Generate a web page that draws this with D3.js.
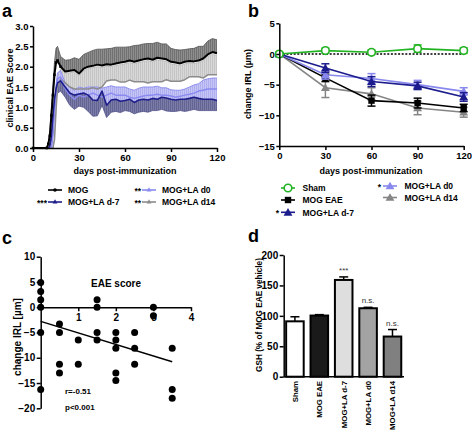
<!DOCTYPE html>
<html><head><meta charset="utf-8">
<script src="https://cdnjs.cloudflare.com/ajax/libs/d3/7.8.5/d3.min.js"></script>
<style>
body{margin:0;background:#fff;}
svg{display:block;font-family:"Liberation Sans",Arial,Helvetica,sans-serif;}
</style></head><body>
<svg id="c" width="472" height="433"></svg>
<script>
// ---------- Panel a data ----------
const days = [0,9,10,11,12,13,14,15,16,18,21,24,27,30,33,36,39,42,45,48,51,54,57,60,63,66,69,72,75,78,81,84,87,90,93,96,99,102,105,108,111,114,117,120];
const mogMean = [0,0,0.1,0.3,0.8,1.3,1.8,2.1,2.15,2.0,1.88,1.9,1.92,1.83,1.95,2.0,2.02,2.05,2.03,2.06,2.05,2.08,2.1,2.12,2.15,2.12,2.15,2.18,2.2,2.17,2.22,2.2,2.18,2.12,2.1,2.08,2.12,2.14,2.13,2.15,2.2,2.3,2.36,2.33];
const mogErr = [0,0,0.05,0.15,0.2,0.25,0.3,0.35,0.35,0.25,0.28,0.27,0.3,0.35,0.35,0.35,0.38,0.38,0.4,0.38,0.4,0.4,0.38,0.36,0.34,0.4,0.38,0.38,0.37,0.4,0.38,0.36,0.38,0.33,0.32,0.33,0.3,0.3,0.32,0.35,0.3,0.33,0.33,0.33];
const d7Mean = [0,0,0,0.05,0.3,0.8,1.2,1.45,1.6,1.65,1.5,1.35,1.3,1.33,1.35,1.3,1.18,1.17,1.4,1.05,1.18,1.2,1.15,1.17,1.2,1.12,1.18,1.2,1.18,1.22,1.2,1.25,1.23,1.2,1.18,1.2,1.2,1.22,1.25,1.22,1.2,1.2,1.2,1.17];
const d7Err = [0,0,0,0.02,0.1,0.15,0.2,0.22,0.25,0.25,0.25,0.3,0.35,0.3,0.35,0.4,0.4,0.38,0.35,0.3,0.3,0.3,0.28,0.25,0.3,0.28,0.3,0.3,0.3,0.3,0.28,0.3,0.32,0.3,0.28,0.28,0.3,0.3,0.3,0.3,0.28,0.28,0.28,0.25];
const d0Mean = [0,0,0,0,0,0.3,0.9,1.4,1.7,1.75,1.45,1.3,1.2,1.3,1.25,1.3,1.35,1.3,1.25,1.3,1.35,1.3,1.3,1.3,1.25,1.22,1.25,1.28,1.3,1.3,1.32,1.3,1.3,1.28,1.25,1.27,1.3,1.32,1.35,1.4,1.42,1.45,1.45,1.45];
const d0Err = [0,0,0,0,0,0.05,0.1,0.15,0.15,0.15,0.15,0.2,0.22,0.2,0.22,0.2,0.15,0.2,0.22,0.2,0.18,0.2,0.2,0.2,0.2,0.2,0.22,0.22,0.2,0.2,0.2,0.18,0.18,0.15,0.17,0.15,0.15,0.18,0.2,0.18,0.25,0.25,0.27,0.27];
const d14Mean = [0,0,0,0,0,0,0.2,0.9,1.5,1.7,1.6,1.5,1.45,1.45,1.45,1.45,1.48,1.45,1.5,1.65,1.67,1.67,1.62,1.62,1.67,1.63,1.63,1.63,1.6,1.63,1.63,1.63,1.68,1.64,1.64,1.64,1.68,1.75,1.75,1.75,1.72,1.8,1.8,1.8];
const d14Err = [0,0,0,0,0,0,0.05,0.15,0.25,0.25,0.25,0.35,0.42,0.33,0.45,0.5,0.5,0.55,0.48,0.36,0.33,0.36,0.43,0.45,0.43,0.44,0.47,0.5,0.55,0.49,0.54,0.52,0.45,0.43,0.41,0.39,0.39,0.34,0.33,0.35,0.43,0.45,0.5,0.48];
const aTicksX = [0,30,60,90,120];
const aTicksY = [0,0.5,1,1.5,2,2.5,3];
const aLegend = ["MOG","MOG+LA d-7","MOG+LA d0","MOG+LA d14"];
const aStars = ["","***","**","**"];

// ---------- Panel b data ----------
const bDays = [0,30,60,90,120];
const shamIRL = [0,0.55,0.27,0.87,0.55];
const shamErr = [0.3,0.4,0.35,0.6,0.45];
const mogIRL = [0,-3.9,-7.6,-8.0,-8.8];
const mogIRLErr = [0.2,0.6,0.9,0.8,0.6];
const d7IRL = [0,-2.3,-4.5,-5.2,-7.0];
const d7IRLErr = [0.2,0.7,0.8,0.6,0.7];
const d0IRL = [0,-3.4,-4.0,-5.0,-6.1];
const d0IRLErr = [0.2,0.7,0.8,0.7,0.6];
const d14IRL = [0,-5.5,-6.5,-8.8,-9.5];
const d14IRLErr = [0.2,1.6,1.0,1.1,0.8];
const bTicksY = [-15,-10,-5,0,5];
const bLegend = ["Sham","MOG EAE","MOG+LA d-7","MOG+LA d0","MOG+LA d14"];
const bStars = ["","","*","*",""];

// ---------- Panel c data ----------
const scoreX = [0,0,0,0,0,0,0.5,0.5,0.5,0.5,1,1,1.5,1.5,1.5,1.5,2,2,2,2,2,2.5,2.5,2.5,3,3,3.5,3.5,3.5];
const irlY = [4.9,3.1,1.5,0,-5,-16.3,-3.3,-5,-11.3,-13,-6.5,-11.3,1.5,0,-5,-6.5,-5,-6.5,-8.1,-13,-14.5,-5,-8.1,-11.3,0,-1.7,-8.1,-16.3,-18];
const fitX = [0,3.5];
const fitY = [-2.8,-10.8];
const cTicksX = [1,2,3,4];
const cTicksY = [-20,-15,-10,-5,0,5,10];

// ---------- Panel d data ----------
const gshGroups = ["Sham","MOG EAE","MOG+LA d-7","MOG+LA d0","MOG+LA d14"];
const gshMean = [91,100.5,159,112.5,66];
const gshErr = [7.5,1.5,5,1.5,11.5];
const gshSig = ["","","***","n.s.","n.s."];
const dTicksY = [0,50,100,150,200];

// ================= drawing =================
const svg = d3.select("#c");
function styleAxis(g, fs){
  g.selectAll("path,line").attr("stroke","#000").attr("stroke-width",1.5);
  g.selectAll("text").attr("font-size",fs).attr("font-weight","bold").attr("fill","#000");
}
function txt(x,y,s,fs,opt={}){
  const t = svg.append("text").attr("x",x).attr("y",y).text(s)
    .attr("font-size",fs).attr("font-weight",opt.w||"bold").attr("fill",opt.fill||"#000")
    .attr("text-anchor",opt.anchor||"start");
  if(opt.rot) t.attr("transform",`rotate(-90,${x},${y})`);
  return t;
}
// patterns for hatched error bands
const defs = svg.append("defs");
function pat(id,bg,ln){
  const p = defs.append("pattern").attr("id",id).attr("patternUnits","userSpaceOnUse").attr("width",2).attr("height",4);
  p.append("rect").attr("width",2).attr("height",4).attr("fill",bg);
  p.append("rect").attr("width",0.8).attr("height",4).attr("fill",ln);
}
pat("pMog","#8e8e8e","#6a6a6a");
pat("pD14","#d8d8d8","#c0c0c0");
pat("pD0","#c6c6f6","#aaaaee");
pat("pD7","#7c7ca8","#5e5e8e");

// panel letters
txt(2,17,"a",18);
txt(248,17,"b",18);
txt(2,244,"c",18);
txt(248,242,"d",18);

// ---------- Panel a ----------
const xA = d3.scaleLinear().domain([0,120]).range([33,217]);
const yA = d3.scaleLinear().domain([0,3]).range([148,26]);
const idx = d3.range(days.length);
function bandA(lo,hi,fill){
  svg.append("path").datum(idx).attr("fill",fill)
    .attr("d",d3.area().x(i=>xA(days[i])).y0(i=>yA(lo(i))).y1(i=>yA(hi(i))));
}
function lineA(f,color,w){
  svg.append("path").datum(idx).attr("fill","none").attr("stroke",color).attr("stroke-width",w)
    .attr("stroke-linejoin","round")
    .attr("d",d3.line().x(i=>xA(days[i])).y(i=>yA(f(i))));
}
bandA(i=>d14Mean[i],i=>d14Mean[i]+d14Err[i],"url(#pD14)");
bandA(i=>mogMean[i],i=>mogMean[i]+mogErr[i],"url(#pMog)");
bandA(i=>d0Mean[i]-d0Err[i],i=>d0Mean[i]+d0Err[i],"url(#pD0)");
bandA(i=>d7Mean[i]-d7Err[i],i=>d7Mean[i],"url(#pD7)");
lineA(i=>mogMean[i]+mogErr[i],"#555",0.8);
lineA(i=>d14Mean[i]+d14Err[i],"#b4b4b4",0.8);
lineA(i=>d0Mean[i]+d0Err[i],"#9090f0",1);
lineA(i=>d7Mean[i]-d7Err[i],"#50508a",0.8);
lineA(i=>d14Mean[i],"#8c8c8c",1.5);
lineA(i=>d0Mean[i],"#8a8af0",1.5);
lineA(i=>d7Mean[i],"#1e1e8a",1.6);
lineA(i=>mogMean[i],"#000",2);
svg.selectAll(".mogdot").data(idx.slice(0,10)).enter().append("rect")
  .attr("x",i=>xA(days[i])-1.3).attr("y",i=>yA(mogMean[i])-1.3).attr("width",2.6).attr("height",2.6).attr("fill","#000");

const axAx = svg.append("g").attr("transform",`translate(0,${yA(0)})`)
  .call(d3.axisBottom(xA).tickValues(aTicksX).tickSize(4).tickSizeOuter(0).tickPadding(2));
styleAxis(axAx,9.5);
const axAy = svg.append("g").attr("transform",`translate(${xA(0)},0)`)
  .call(d3.axisLeft(yA).tickValues(aTicksY).tickFormat(d3.format(".1f")).tickSize(3).tickSizeOuter(0).tickPadding(1.5));
styleAxis(axAy,9.5);
txt(125,174,"days post-immunization",9,{anchor:"middle"});
txt(13,88,"clinical EAE Score",9,{anchor:"middle",rot:true});

// legend a
const aColors = ["#000","#1e1e8a","#8a8af0","#8c8c8c"];
const aLegPos = [[48,190],[48,202],[142,190],[142,202]];
aLegend.forEach((name,k)=>{
  const [lx,ly] = aLegPos[k];
  svg.append("line").attr("x1",lx).attr("x2",lx+14).attr("y1",ly).attr("y2",ly)
    .attr("stroke",aColors[k]).attr("stroke-width",1.6);
  if(k===0) svg.append("circle").attr("cx",lx+7).attr("cy",ly).attr("r",1.8).attr("fill","#000");
  else svg.append("path").attr("transform",`translate(${lx+7},${ly})`)
    .attr("d",d3.symbol(d3.symbolTriangle,10)()).attr("fill",aColors[k]);
  txt(lx+20,ly+3.2,name,8.5);
  if(aStars[k]) txt(lx-1,ly+4,aStars[k],8.5,{anchor:"end"});
});

// ---------- Panel b ----------
const xB = d3.scaleLinear().domain([0,120]).range([279.3,463.7]);
const yB = d3.scaleLinear().domain([-15,5]).range([146,23.3]);
svg.append("line").attr("x1",xB(0)).attr("x2",xB(120)).attr("y1",yB(0)).attr("y2",yB(0))
  .attr("stroke","#000").attr("stroke-width",1.4).attr("stroke-dasharray","2,1.6");
const bSeries = [
  {v:d14IRL,e:d14IRLErr,c:"#858585",m:"tri"},
  {v:mogIRL,e:mogIRLErr,c:"#000",m:"sq"},
  {v:d0IRL,e:d0IRLErr,c:"#8888ee",m:"tri"},
  {v:d7IRL,e:d7IRLErr,c:"#1c1c8c",m:"tri"},
  {v:shamIRL,e:shamErr,c:"#22b322",m:"circ"}
];
function marker(g,x,y,m,c){
  if(m==="circ") g.append("circle").attr("cx",x).attr("cy",y).attr("r",3.8).attr("fill","#fff").attr("stroke",c).attr("stroke-width",1.6);
  else if(m==="sq") g.append("rect").attr("x",x-3.2).attr("y",y-3.2).attr("width",6.4).attr("height",6.4).attr("fill",c);
  else g.append("path").attr("transform",`translate(${x},${y+0.8})`).attr("d",d3.symbol(d3.symbolTriangle,34)()).attr("fill",c);
}
bSeries.forEach(s=>{
  const g = svg.append("g");
  g.append("path").datum(bDays.map((d,i)=>i)).attr("fill","none").attr("stroke",s.c).attr("stroke-width",1.6)
    .attr("d",d3.line().x(i=>xB(bDays[i])).y(i=>yB(s.v[i])));
  bDays.forEach((d,i)=>{
    const x=xB(d), y1=yB(s.v[i]+s.e[i]), y2=yB(s.v[i]-s.e[i]);
    g.append("line").attr("x1",x).attr("x2",x).attr("y1",y1).attr("y2",y2).attr("stroke",s.c).attr("stroke-width",1.5);
    [y1,y2].forEach(yy=>g.append("line").attr("x1",x-4).attr("x2",x+4).attr("y1",yy).attr("y2",yy).attr("stroke",s.c).attr("stroke-width",1.5));
    marker(g,x,yB(s.v[i]),s.m,s.c);
  });
});
const axBx = svg.append("g").attr("transform",`translate(0,${yB(-15)})`)
  .call(d3.axisBottom(xB).tickValues(aTicksX).tickSize(4).tickSizeOuter(0).tickPadding(2));
styleAxis(axBx,9.5);
const axBy = svg.append("g").attr("transform",`translate(${xB(0)},0)`)
  .call(d3.axisLeft(yB).tickValues(bTicksY).tickSize(3).tickSizeOuter(0).tickPadding(1.5));
styleAxis(axBy,9.5);
txt(371,174,"days post-immunization",9,{anchor:"middle"});
txt(251,84,"change IRL (µm)",9,{anchor:"middle",rot:true});

// legend b
const bLegStyle = [
  {c:"#22b322",m:"circ"},{c:"#000",m:"sq"},{c:"#1c1c8c",m:"tri"},{c:"#8888ee",m:"tri"},{c:"#858585",m:"tri"}
];
const bLegPos = [[281,188],[281,200],[281,212.3],[383,186],[383,197.5]];
bLegend.forEach((name,k)=>{
  const [lx,ly] = bLegPos[k];
  const st = bLegStyle[k];
  svg.append("line").attr("x1",lx).attr("x2",lx+14).attr("y1",ly).attr("y2",ly).attr("stroke",st.c).attr("stroke-width",1.6);
  marker(svg,lx+7,ly,st.m,st.c);
  txt(lx+21.5,ly+3.2,name,8.5);
  if(bStars[k]) txt(lx-2,ly+4,bStars[k],8.5,{anchor:"end"});
});

// ---------- Panel c ----------
const xC = d3.scaleLinear().domain([0,4]).range([40.7,191]);
const yC = d3.scaleLinear().domain([-20,10]).range([408.3,256.7]);
const axCx = svg.append("g").attr("transform",`translate(0,${yC(0)})`)
  .call(d3.axisBottom(xC).tickValues(cTicksX).tickFormat(d3.format("d")).tickSize(4).tickSizeOuter(0).tickPadding(3));
styleAxis(axCx,10);
const axCy = svg.append("g").attr("transform",`translate(${xC(0)},0)`)
  .call(d3.axisLeft(yC).tickValues(cTicksY).tickFormat(d3.format("d")).tickSize(4).tickSizeOuter(0).tickPadding(1.5));
styleAxis(axCy,10);
svg.append("line").attr("x1",xC(fitX[0])).attr("y1",yC(fitY[0])).attr("x2",xC(fitX[1])).attr("y2",yC(fitY[1]))
  .attr("stroke","#000").attr("stroke-width",1.5);
svg.selectAll(".cdot").data(scoreX.map((d,i)=>i)).enter().append("circle")
  .attr("cx",i=>xC(scoreX[i])).attr("cy",i=>yC(irlY[i])).attr("r",3.5).attr("fill","#000");
txt(116,287,"EAE score",10,{anchor:"middle"});
txt(21,337,"change IRL [µm]",10,{anchor:"middle",rot:true});
txt(65,394,"r=-0.51",8);
txt(65,410,"p<0.001",8);

// ---------- Panel d ----------
const xD = d3.scaleBand().domain(gshGroups).range([283.7,403.7]).paddingInner(0.28).paddingOuter(0.1);
const yD = d3.scaleLinear().domain([0,200]).range([376.7,255]);
const dFills = ["#ffffff","#1a1a1a","#dedede","#a3a3a3","#808080"];
gshGroups.forEach((g,i)=>{
  const x0 = xD(g), w = xD.bandwidth(), cx = x0+w/2;
  const top = yD(gshMean[i]), cap = yD(gshMean[i]+gshErr[i]);
  svg.append("line").attr("x1",cx).attr("x2",cx).attr("y1",top).attr("y2",cap).attr("stroke","#000").attr("stroke-width",1.5);
  svg.append("line").attr("x1",cx-4.5).attr("x2",cx+4.5).attr("y1",cap).attr("y2",cap).attr("stroke","#000").attr("stroke-width",1.5);
  svg.append("rect").attr("x",x0).attr("y",top).attr("width",w).attr("height",yD(0)-top)
    .attr("fill",dFills[i]).attr("stroke","#000").attr("stroke-width",2);
  if(gshSig[i]) txt(cx,cap-4,gshSig[i],8,{anchor:"middle",w:"normal",fill:"#333"});
  txt(cx+3,381,g,7.8,{anchor:"end",rot:true});
});
const axDy = svg.append("g").attr("transform",`translate(283.7,0)`)
  .call(d3.axisLeft(yD).tickValues(dTicksY).tickSize(4).tickSizeOuter(0).tickPadding(1.5));
styleAxis(axDy,10);
svg.append("line").attr("x1",283.7).attr("x2",404).attr("y1",yD(0)).attr("y2",yD(0)).attr("stroke","#000").attr("stroke-width",1.5);
txt(262,315,"GSH (% of MOG EAE vehicle)",8.2,{anchor:"middle",rot:true});
</script>
</body></html>
